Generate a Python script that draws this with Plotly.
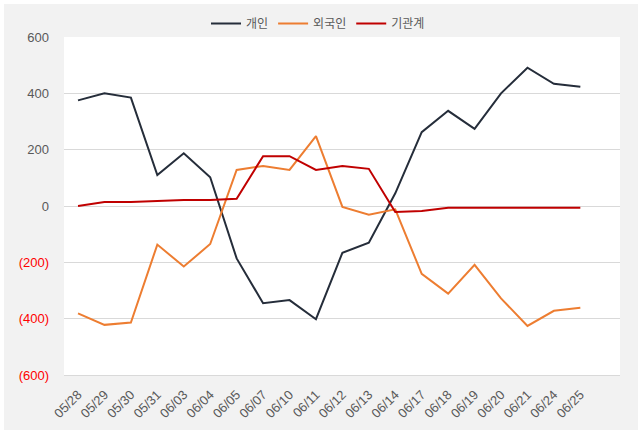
import plotly.graph_objects as go

dates = ["05/28", "05/29", "05/30", "05/31", "06/03", "06/04", "06/05", "06/07", "06/10", "06/11",
         "06/12", "06/13", "06/14", "06/17", "06/18", "06/19", "06/20", "06/21", "06/24", "06/25"]
individual = [375, 400, 385, 110, 187, 102, -186, -345, -334, -402,
              -166, -130, 45, 262, 338, 274, 400, 491, 434, 423]
foreign = [-381, -422, -414, -137, -215, -135, 128, 142, 128, 248,
           -3, -31, -12, -241, -311, -209, -328, -426, -372, -361]
institution = [0, 14, 14, 17, 21, 21, 26, 177, 177, 128,
               142, 132, -21, -18, -6, -6, -6, -6, -6, -6]

series_names = ["개인", "외국인", "기관계"]
series_colors = ["#252d3a", "#ed7d31", "#c00000"]

tick_vals = [600, 400, 200, 0, -200, -400, -600]
tick_text = ["600", "400", "200", "0",
             "<span style='color:#ff0000'>(200)</span>",
             "<span style='color:#ff0000'>(400)</span>",
             "<span style='color:#ff0000'>(600)</span>"]

tick_font = "Liberation Sans, Arial, sans-serif"
legend_font = "Noto Sans CJK KR, Noto Sans, sans-serif"

fig = go.Figure()
x_idx = list(range(len(dates)))
for name, vals, col in zip(series_names, [individual, foreign, institution], series_colors):
    fig.add_trace(go.Scatter(x=x_idx, y=vals, name=name, mode="lines",
                             line=dict(color=col, width=2)))

W, H = 641, 437
L, R, T, B = 64, 21, 37, 62
pw, ph = W - L - R, H - T - B

def px_to_paper_x(px):
    return (px - L) / pw

def px_to_paper_y(py):
    return (H - B - py) / ph

fig.update_layout(
    width=W, height=H,
    margin=dict(l=L, r=R, t=T, b=B, autoexpand=False),
    paper_bgcolor="white",
    plot_bgcolor="white",
    font=dict(family=tick_font, color="#595959", size=13),
    showlegend=True,
    legend=dict(orientation="h", x=px_to_paper_x(318), xanchor="center", y=px_to_paper_y(9), yanchor="top",
                bgcolor="rgba(0,0,0,0)", font=dict(size=12, color="#595959", family=legend_font),
                itemwidth=30, tracegroupgap=0),
    shapes=[
        dict(type="rect", xref="paper", yref="paper", layer="below",
             x0=px_to_paper_x(4), x1=px_to_paper_x(638),
             y0=px_to_paper_y(430), y1=px_to_paper_y(4),
             fillcolor="#f2f2f2", line=dict(width=0)),
        dict(type="rect", xref="paper", yref="paper", layer="below",
             x0=0, x1=1, y0=0, y1=1,
             fillcolor="white", line=dict(width=0)),
    ],
    xaxis=dict(
        tickmode="array", tickvals=x_idx, ticktext=dates,
        range=[-0.53, 20.5], tickangle=-45, showgrid=False,
        showline=True, linecolor="#d9d9d9", linewidth=1,
        ticks="", tickfont=dict(size=13, color="#595959", family=tick_font),
        ticklabelstandoff=6,
        zeroline=False,
    ),
    yaxis=dict(
        tickmode="array", tickvals=tick_vals, ticktext=tick_text,
        range=[-600, 600], showgrid=True, gridcolor="#d9d9d9", gridwidth=1,
        zeroline=False, showline=False, ticks="",
        ticklabelstandoff=14, tickfont=dict(size=13, color="#595959", family=tick_font),
    ),
)

fig.write_html("out.html")
